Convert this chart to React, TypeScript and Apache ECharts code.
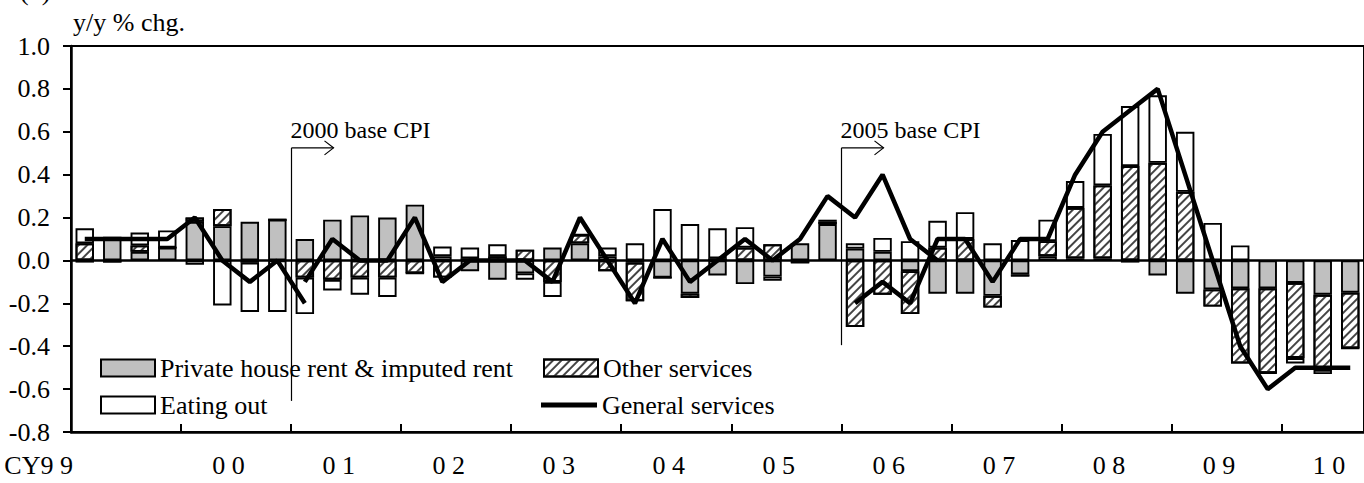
import React, { useEffect, useRef } from "react";
import * as echarts from "echarts";

const FONT = '"Liberation Serif", "Times New Roman", serif';

const quarters = [
  "99Q1", "99Q2", "99Q3", "99Q4",
  "00Q1", "00Q2", "00Q3", "00Q4",
  "01Q1", "01Q2", "01Q3", "01Q4",
  "02Q1", "02Q2", "02Q3", "02Q4",
  "03Q1", "03Q2", "03Q3", "03Q4",
  "04Q1", "04Q2", "04Q3", "04Q4",
  "05Q1", "05Q2", "05Q3", "05Q4",
  "06Q1", "06Q2", "06Q3", "06Q4",
  "07Q1", "07Q2", "07Q3", "07Q4",
  "08Q1", "08Q2", "08Q3", "08Q4",
  "09Q1", "09Q2", "09Q3", "09Q4",
  "10Q1", "10Q2", "10Q3",
];

const rent = [
  -0.01, 0.10, 0.04, 0.06,
  0.18, 0.16, 0.18, 0.19,
  0.10, 0.19, 0.21, 0.20,
  0.26, 0.02, -0.05, -0.09,
  -0.06, 0.06, 0.08, 0.02,
  -0.01, -0.08, -0.155, -0.07,
  -0.11, -0.075, 0.08, 0.17,
  0.055, 0.04, -0.05, -0.155,
  -0.155, -0.165, -0.065, 0.02,
  0.01, 0.01, -0.01, -0.07,
  -0.155, -0.135, -0.13, -0.13,
  -0.105, -0.16, -0.15,
];

const otherServices = [
  0.08, -0.01, 0.03, 0,
  0.02, 0.08, -0.01, 0,
  -0.08, -0.09, -0.08, -0.08,
  -0.06, -0.08, 0.01, 0.02,
  0.05, -0.10, 0.04, -0.05,
  -0.18, 0, -0.02, 0.01,
  0.06, 0.075, -0.01, 0.01,
  -0.31, -0.16, -0.20, 0.06,
  0.10, -0.055, -0.01, 0.07,
  0.235, 0.34, 0.44, 0.455,
  0.32, -0.08, -0.35, -0.395,
  -0.35, -0.35, -0.26,
];

const eatingOut = [
  0.07, 0.01, 0.06, 0.08,
  -0.02, -0.21, -0.23, -0.24,
  -0.17, -0.05, -0.08, -0.09,
  0, 0.045, 0.05, 0.055,
  -0.03, -0.07, 0, 0.04,
  0.08, 0.24, 0.17, 0.14,
  0.095, -0.02, 0, 0.01,
  0.025, 0.065, 0.09, 0.125,
  0.125, 0.08, 0.095, 0.10,
  0.125, 0.24, 0.28, 0.315,
  0.28, 0.175, 0.07, 0,
  -0.025, -0.02, 0,
];

// General services, by CPI base year (start index in quarters + values)
const general1995Start = 0;
const general1995 = [0.1, 0.1, 0.1, 0.1, 0.2, 0.0, -0.1, 0.0, -0.2];
const general2000Start = 8;
const general2000 = [
  -0.1, 0.1, 0.0, 0.0, 0.2, -0.1, 0.0, 0.0, 0.0, -0.1, 0.2, 0.0,
  -0.2, 0.1, -0.1, 0.0, 0.1, 0.0, 0.1, 0.3, 0.2, 0.4, 0.1, 0.0,
];
const general2005Start = 28;
const general2005 = [
  -0.2, -0.1, -0.2, 0.1, 0.1, -0.1, 0.1, 0.1, 0.4, 0.6, 0.7, 0.8,
  0.4, 0.0, -0.4, -0.6, -0.5, -0.5, -0.5,
];

const yearLabels = ["CY9 9", "0 0", "0 1", "0 2", "0 3", "0 4", "0 5", "0 6", "0 7", "0 8", "0 9", "1 0"];

const baseChanges = [
  { index: 8, text: "2000 base CPI", bottom: -0.655 },
  { index: 28, text: "2005 base CPI", bottom: -0.395 },
];

const NAMES = {
  rent: "Private house rent & imputed rent",
  other: "Other services",
  eating: "Eating out",
  general: "General services",
};

function place(start: number, values: number[]): (number | null)[] {
  const out: (number | null)[] = quarters.map(() => null);
  values.forEach((v, k) => {
    out[start + k] = v;
  });
  return out;
}

export default function App() {
  const ref = useRef<HTMLDivElement>(null);

  useEffect(() => {
    if (!ref.current) return;
    const chart = echarts.init(ref.current, null, { renderer: "svg" });

    const yearTicks = yearLabels.map((_, k) => k * 4).filter((v) => v < quarters.length);
    const labelPos = yearLabels.map((_, k) => (k === 0 ? 0.07 : 4 * k + 2.32));

    const hatch = {
      symbol: "rect",
      symbolSize: 1,
      color: "#444",
      dashArrayX: [1, 0],
      dashArrayY: [1.1, 3.2],
      rotation: -Math.PI / 4,
    };

    const barCommon = {
      type: "bar",
      stack: "total",
      barCategoryGap: "33%",
      xAxisIndex: 0,
      yAxisIndex: 0,
      emphasis: { disabled: true },
    };
    const border = { borderColor: "#000", borderWidth: 1.9 };
    const lineCommon = {
      type: "line",
      name: NAMES.general,
      xAxisIndex: 0,
      yAxisIndex: 0,
      symbol: "none",
      showSymbol: false,
      connectNulls: false,
      lineStyle: { color: "#000", width: 4.5 },
      itemStyle: { color: "#000" },
      emphasis: { disabled: true },
      z: 5,
    };

    const legendCommon = {
      orient: "horizontal",
      padding: 0,
      itemWidth: 54,
      itemHeight: 17,
      itemGap: 0,
      selectedMode: false,
      textStyle: { fontSize: 26, fontFamily: FONT, color: "#000" },
    };

    chart.setOption({
      animation: false,
      backgroundColor: "#fff",
      grid: {
        left: 71,
        top: 46,
        width: 1295,
        height: 386,
        show: true,
        borderColor: "#000",
        borderWidth: 2,
        backgroundColor: "transparent",
      },
      legend: [
        { ...legendCommon, data: [NAMES.rent], left: 100, top: 355, icon: "rect" },
        { ...legendCommon, data: [NAMES.other], left: 543, top: 355, icon: "rect" },
        { ...legendCommon, data: [NAMES.eating], left: 100, top: 392, icon: "rect" },
        {
          ...legendCommon,
          data: [NAMES.general],
          left: 541,
          top: 392,
          itemWidth: 56,
          itemHeight: 5,
          icon: "rect",
          itemStyle: { color: "#000", borderWidth: 0 },
        },
      ],
      xAxis: [
        {
          type: "category",
          data: quarters,
          boundaryGap: true,
          axisLine: { onZero: true, lineStyle: { color: "#000", width: 2.5 } },
          axisTick: { show: false },
          axisLabel: { show: false },
          splitLine: { show: false },
        },
        {
          type: "value",
          min: 0,
          max: quarters.length,
          position: "bottom",
          axisLine: { show: true, onZero: false, lineStyle: { color: "#000", width: 2.5 } },
          axisTick: {
            show: true,
            inside: true,
            length: 8,
            customValues: yearTicks,
            lineStyle: { color: "#000", width: 2 },
          },
          axisLabel: {
            show: true,
            customValues: labelPos,
            align: "right",
            margin: 20,
            fontSize: 26,
            fontFamily: FONT,
            color: "#000",
            formatter: (v: number) => {
              const k = labelPos.findIndex((p) => Math.abs(p - v) < 1e-6);
              return k >= 0 ? yearLabels[k] : "";
            },
          },
          splitLine: { show: false },
        },
      ],
      yAxis: {
        type: "value",
        min: -0.8,
        max: 1.0,
        interval: 0.2,
        axisLine: { show: true, lineStyle: { color: "#000", width: 2.5 } },
        axisTick: { show: true, length: 8, lineStyle: { color: "#000", width: 2 } },
        axisLabel: {
          fontSize: 26,
          fontFamily: FONT,
          color: "#000",
          margin: 21,
          formatter: (v: number) => v.toFixed(1),
        },
        splitLine: { show: false },
      },
      series: [
        { ...barCommon, name: NAMES.rent, data: rent, itemStyle: { color: "#c0c0c0", ...border } },
        { ...barCommon, name: NAMES.other, data: otherServices, itemStyle: { color: "#fff", decal: hatch, ...border } },
        { ...barCommon, name: NAMES.eating, data: eatingOut, itemStyle: { color: "#fff", ...border } },
        { ...lineCommon, data: place(general1995Start, general1995) },
        { ...lineCommon, data: place(general2000Start, general2000) },
        { ...lineCommon, data: place(general2005Start, general2005) },
      ],
    });

    const px = (i: number) => chart.convertToPixel({ xAxisIndex: 1 }, i) as number;
    const py = (v: number) => chart.convertToPixel({ yAxisIndex: 0 }, v) as number;
    const arrowY = py(0.525);
    const graphics: any[] = [
      {
        type: "text",
        left: 73,
        top: 9,
        style: { text: "y/y % chg.", font: `26px ${FONT}`, fill: "#000" },
      },
      {
        type: "text",
        left: 20,
        top: -22,
        style: { text: "(2)", font: `26px ${FONT}`, fill: "#000" },
      },
    ];
    baseChanges.forEach((b) => {
      const x = Math.round(px(b.index)) + 0.5;
      graphics.push(
        {
          type: "line",
          shape: { x1: x, y1: arrowY, x2: x, y2: py(b.bottom) },
          style: { stroke: "#000", lineWidth: 1.2 },
        },
        {
          type: "line",
          shape: { x1: x, y1: arrowY, x2: x + 42, y2: arrowY },
          style: { stroke: "#000", lineWidth: 1.2 },
        },
        {
          type: "polyline",
          shape: { points: [[x + 33, arrowY - 7], [x + 42, arrowY], [x + 33, arrowY + 7]] },
          style: { stroke: "#000", lineWidth: 1.2, fill: null },
        },
        {
          type: "text",
          x: x - 1,
          y: arrowY - 18,
          style: {
            text: b.text,
            font: `24px ${FONT}`,
            fill: "#000",
            align: "left",
            verticalAlign: "middle",
            textAlign: "left",
            textVerticalAlign: "middle",
          },
        }
      );
    });
    chart.setOption({ graphic: graphics });

    return () => chart.dispose();
  }, []);

  return (
    <div
      ref={ref}
      style={{ position: "absolute", left: 0, top: 0, width: 1364, height: 483, background: "#fff" }}
    />
  );
}
